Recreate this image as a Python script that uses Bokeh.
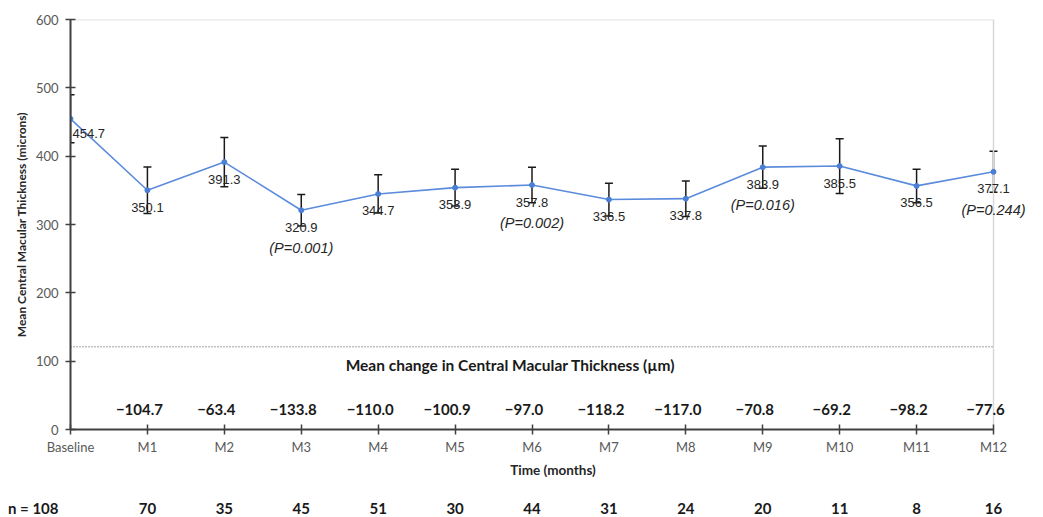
from bokeh.plotting import figure
from bokeh.layouts import column
from bokeh.models import (Range1d, FixedTicker, ColumnDataSource, Whisker, TeeHead,
                          LabelSet, Label)
from bokeh.core.properties import value
from bokeh.embed import file_html
from bokeh.resources import INLINE

categories = ["Baseline", "M1", "M2", "M3", "M4", "M5", "M6", "M7", "M8", "M9", "M10", "M11", "M12"]
mean_cmt = [454.7, 350.1, 391.3, 320.9, 344.7, 353.9, 357.8, 336.5, 337.8, 383.9, 385.5, 356.5, 377.1]
error = [35, 34, 36, 23, 28, 27, 26, 24, 26, 31, 40, 24.5, 30]
mean_change = [-104.7, -63.4, -133.8, -110.0, -100.9, -97.0, -118.2, -117.0, -70.8, -69.2, -98.2, -77.6]
n_patients = [108, 70, 35, 45, 51, 30, 44, 31, 24, 20, 11, 8, 16]
p_months = ["M3", "M6", "M9", "M12"]
p_values = ["0.001", "0.002", "0.016", "0.244"]
y_ticks = [0, 100, 200, 300, 400, 500, 600]

FONT = "Lato"
NUMFONT = "Liberation Sans"
x_idx = list(range(len(categories)))
x_last = x_idx[-1]
y_max = y_ticks[-1]

# layout (pixels)
W = 1035
AXIS_X = 70          # screen x of the Baseline / y-axis
LAST_X = 993         # screen x of M12
ppu = (LAST_X - AXIS_X) / x_last
x_range = Range1d(0, (W - AXIS_X) / ppu)

p = figure(width=W, height=480, x_range=x_range, y_range=Range1d(0, y_max),
           output_backend="svg", toolbar_location=None,
           min_border_left=AXIS_X, min_border_right=0, min_border_top=19, min_border_bottom=50)
p.outline_line_color = None
p.xgrid.visible = False
p.ygrid.visible = False

for ax in (p.xaxis[0], p.yaxis[0]):
    ax.axis_line_color = "#404040"
    ax.axis_line_width = 2
    ax.major_tick_line_color = "#404040"
    ax.major_tick_line_width = 1.5
    ax.major_tick_in = 5
    ax.major_tick_out = 5
    ax.minor_tick_line_color = None
    ax.major_label_text_font = FONT
    ax.major_label_text_font_size = "13px"
    ax.major_label_text_color = "#595959"
    ax.axis_label_text_font = FONT
    ax.axis_label_text_font_style = "bold"
    ax.axis_label_text_color = "#262626"

p.yaxis.ticker = FixedTicker(ticks=y_ticks)
p.yaxis.major_label_standoff = 7
p.yaxis.axis_label = "Mean Central Macular Thickness (microns)"
p.yaxis.axis_label_text_font_size = "12px"
p.yaxis.axis_label_standoff = 4

p.xaxis.ticker = FixedTicker(ticks=x_idx)
p.xaxis.bounds = (0, x_last)
p.xaxis.major_label_overrides = {i: c for i, c in enumerate(categories)}
p.xaxis.major_label_standoff = 4
p.xaxis.axis_label = "Time (months)"
p.xaxis.axis_label_text_font_size = "13.5px"
p.xaxis.axis_label_standoff = 4

# light plot-area border (top and right)
p.line([0, x_last, x_last], [y_max, y_max, 0], line_color="#d9d9d9", line_width=1.5)

src = ColumnDataSource(dict(
    x=x_idx, y=mean_cmt,
    upper=[m + e for m, e in zip(mean_cmt, error)],
    lower=[m - e for m, e in zip(mean_cmt, error)],
    lbl=[f"{m:.1f}" for m in mean_cmt],
))

wh = Whisker(source=src, base="x", upper="upper", lower="lower",
             line_color="#1a1a1a", line_width=1.5,
             upper_head=TeeHead(size=8, line_color="#1a1a1a", line_width=1.5),
             lower_head=TeeHead(size=8, line_color="#1a1a1a", line_width=1.5))
p.add_layout(wh)

p.line("x", "y", source=src, line_color="#5b8bdc", line_width=1.6)
p.scatter("x", "y", source=src, size=5, color="#4a7fd6")

# value labels (baseline label nudged right so it stays inside the plot area)
lbl_src = ColumnDataSource(dict(x=src.data["x"][1:], y=src.data["y"][1:], lbl=src.data["lbl"][1:]))
p.add_layout(LabelSet(x="x", y="y", text="lbl", source=lbl_src, y_offset=-17,
                      text_align="center", text_baseline="middle",
                      text_font=value(NUMFONT), text_font_size="13px", text_color="#262626"))
p.add_layout(Label(x=0, y=mean_cmt[0], text=f"{mean_cmt[0]:.1f}", x_offset=2, y_offset=-15,
                   text_align="left", text_baseline="middle",
                   text_font=NUMFONT, text_font_size="13px", text_color="#262626"))

p_src = ColumnDataSource(dict(
    x=[categories.index(m) for m in p_months],
    y=[mean_cmt[categories.index(m)] for m in p_months],
    t=[f"(P={v})" for v in p_values],
))
p.add_layout(LabelSet(x="x", y="y", text="t", source=p_src, y_offset=-38,
                      text_align="center", text_baseline="middle",
                      text_font=value(NUMFONT), text_font_style="italic",
                      text_font_size="14.5px", text_color="#262626"))

# dotted separator
sep_y = 121
p.line([0, x_last], [sep_y, sep_y], line_color="#404040", line_width=1, line_dash="1 2")

p.add_layout(Label(x=5.72, y=94, text="Mean change in Central Macular Thickness (\u00b5m)",
                   text_align="center", text_baseline="middle", text_font=FONT,
                   text_font_style="bold", text_font_size="15.5px", text_color="#1a1a1a"))

ch_src = ColumnDataSource(dict(
    x=x_idx[1:], y=[29] * len(mean_change),
    t=[f"\u2212{abs(v):.1f}" for v in mean_change],
))
p.add_layout(LabelSet(x="x", y="y", text="t", source=ch_src, x_offset=-8,
                      text_align="center", text_baseline="middle", text_font=value(FONT),
                      text_font_style="bold", text_font_size="15px", text_color="#1a1a1a"))

# n row: strip sharing the same horizontal scale; "n = 108" is its y-axis label
row_y = 0.25
p2 = figure(width=W, height=37, x_range=x_range, y_range=Range1d(0, 1),
            output_backend="svg", toolbar_location=None, x_axis_location=None,
            min_border_left=AXIS_X, min_border_right=0, min_border_top=0, min_border_bottom=0)
p2.outline_line_color = None
p2.xgrid.visible = False
p2.ygrid.visible = False
p2.yaxis.ticker = FixedTicker(ticks=[row_y])
p2.yaxis.major_label_overrides = {row_y: f"n = {n_patients[0]}"}
p2.yaxis.axis_line_color = None
p2.yaxis.major_tick_line_color = None
p2.yaxis.minor_tick_line_color = None
p2.yaxis.major_tick_out = 0
p2.yaxis.major_tick_in = 0
p2.yaxis.major_label_standoff = 12
p2.yaxis.major_label_text_font = FONT
p2.yaxis.major_label_text_font_style = "bold"
p2.yaxis.major_label_text_font_size = "15px"
p2.yaxis.major_label_text_color = "#1a1a1a"

n_src = ColumnDataSource(dict(
    x=x_idx[1:], y=[row_y] * (len(n_patients) - 1),
    t=[str(v) for v in n_patients[1:]],
))
p2.text("x", "y", text="t", source=n_src, text_align="center", text_baseline="middle",
        text_font=value(FONT), text_font_style="bold", text_font_size="15px", text_color="#1a1a1a")

layout = column(p, p2, spacing=0)
open("out.html", "w").write(file_html(layout, INLINE))
